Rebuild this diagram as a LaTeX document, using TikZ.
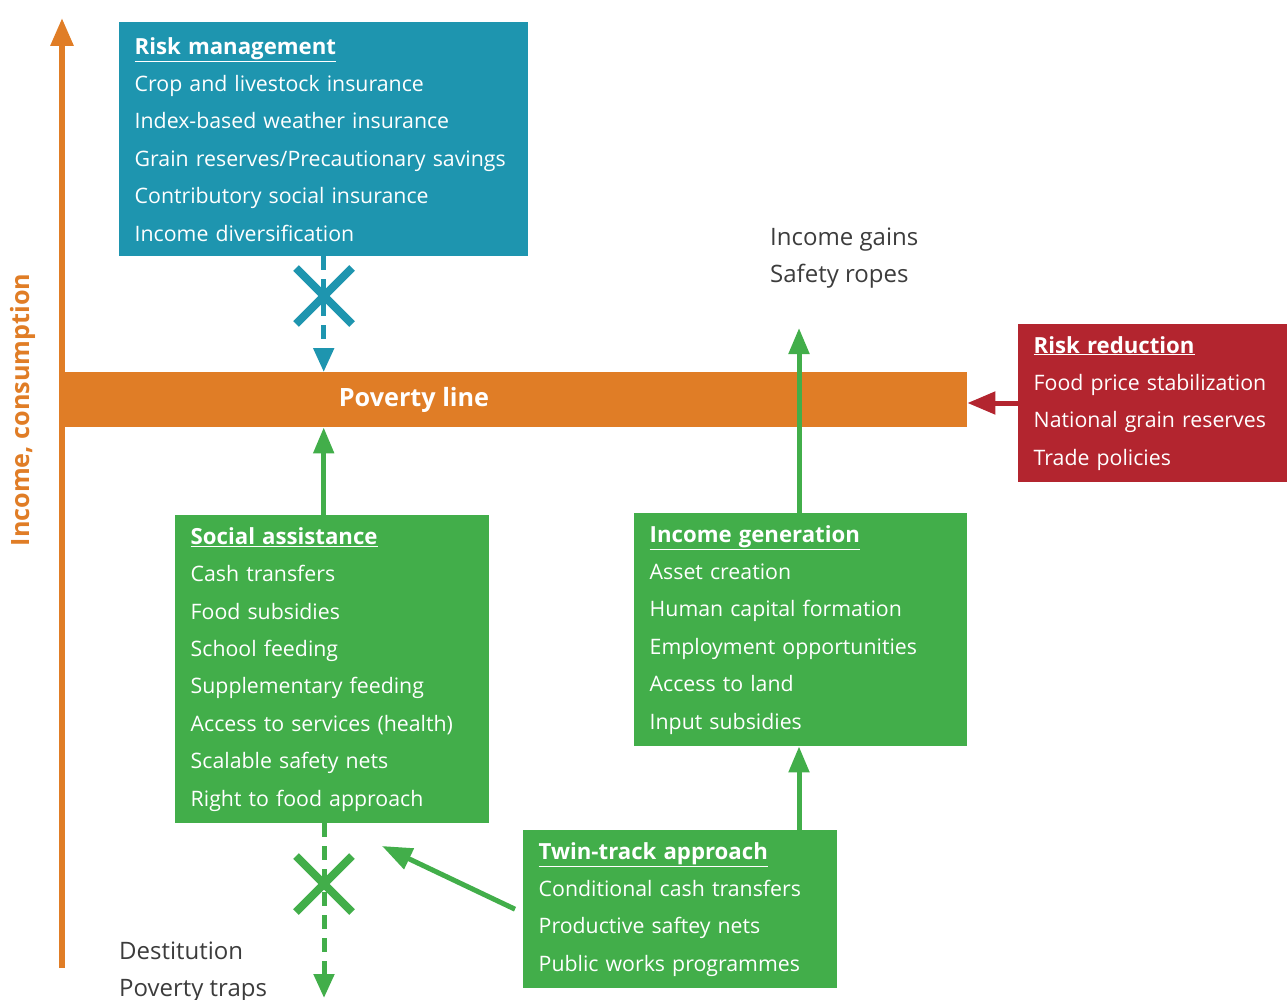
\documentclass[tikz,border=0pt]{standalone}
\usepackage{fontspec}
\setmainfont{Open Sans}
\usetikzlibrary{arrows.meta}
\definecolor{cteal}{HTML}{1E95AF}
\definecolor{corange}{HTML}{E07D26}
\definecolor{cred}{HTML}{B3252F}
\definecolor{cgreen}{HTML}{42AE4A}
\definecolor{cgray}{HTML}{3C3C3C}
\newcommand\boxtitle[1]{\rule{0pt}{17pt}{\fontsize{22.2}{37.4}\selectfont\textbf{\underline{#1}}}}
\tikzset{
  infobox/.style={rectangle, anchor=north west, inner xsep=15.5pt, inner ysep=0pt, text=white, align=left,
    font=\fontsize{21.3}{37.4}\selectfont},
  plainlabel/.style={anchor=west, inner sep=0pt, text=cgray, align=left, font=\fontsize{24}{37}\selectfont},
  bigtip/.style={-{Triangle[length=26pt,width=20pt]}},
  greenarrow/.style={draw=cgreen, line width=5pt, bigtip},
  crossmark/.style={line width=8pt},
}
\begin{document}
\begin{tikzpicture}[x=1pt,y=-1pt]
\useasboundingbox (0,0) rectangle (1287,1000);

% axis
\coordinate (axB) at (62,968);
\coordinate (axT) at (62,18);
\draw[draw=corange, line width=6pt, -{Triangle[length=28pt,width=22pt]}] (axB) -- (axT);
\node[rotate=90, text=corange, font=\bfseries\fontsize{25.2}{30}\selectfont] (axlabel) at (23,410) {Income, consumption};

% poverty line bar
\node[rectangle, fill=corange, anchor=north west, minimum width=908pt, minimum height=55pt, inner sep=0pt] (bar) at (59,372) {};
\node[text=white, font=\bfseries\fontsize{25.2}{30}\selectfont] (pl) at (414,400) {Poverty line};

% boxes
\node[infobox, fill=cteal, text width=378pt, minimum height=234pt] (rm) at (119,22)
  {\boxtitle{Risk management}\\Crop and livestock insurance\\Index-based weather insurance\\Grain reserves/Precautionary savings\\Contributory social insurance\\Income diversification};

\node[infobox, fill=cred, text width=238pt, minimum height=158pt] (rr) at (1018,324)
  {\boxtitle{Risk reduction}\\Food price stabilization\\National grain reserves\\Trade policies};

\node[infobox, fill=cgreen, text width=283pt, minimum height=308pt] (sa) at (175,515)
  {\boxtitle{Social assistance}\\Cash transfers\\Food subsidies\\School feeding\\Supplementary feeding\\Access to services (health)\\Scalable safety nets\\Right to food approach};

\node[infobox, fill=cgreen, text width=302pt, minimum height=233pt] (ig) at (634,513)
  {\boxtitle{Income generation}\\Asset creation\\Human capital formation\\Employment opportunities\\Access to land\\Input subsidies};

\node[infobox, fill=cgreen, text width=283pt, minimum height=158pt] (tt) at (523,830)
  {\boxtitle{Twin-track approach}\\Conditional cash transfers\\Productive saftey nets\\Public works programmes};

% plain labels
\node[plainlabel] (gains) at (770,258) {Income gains\\Safety ropes};
\node[plainlabel] (dest) at (119,972) {Destitution\\Poverty traps};

% teal blocked arrow
\draw[draw=cteal, line width=5pt, dash pattern=on 14pt off 9pt, -{Triangle[length=24pt,width=20pt]}] (rm.south) -- (rm.south |- bar.north);
\coordinate (xa) at (324,296);
\draw[cteal, crossmark] ([shift={(-28,-28)}]xa) -- ([shift={(28,28)}]xa);
\draw[cteal, crossmark] ([shift={(-28,28)}]xa) -- ([shift={(28,-28)}]xa);

% social assistance up to poverty line
\draw[greenarrow] (rm.south |- sa.north) -- (rm.south |- bar.south);

% income generation up past the poverty line
\coordinate (gainsTip) at (799,328);
\draw[greenarrow] (gainsTip |- ig.north) -- (gainsTip);

% twin-track to income generation
\draw[greenarrow] (gainsTip |- tt.north) -- (gainsTip |- ig.south);

% twin-track diagonal
\coordinate (diagTip) at (382,846);
\draw[greenarrow, -{Triangle[length=30pt,width=22pt]}] ([xshift=-8pt]tt.west) -- (diagTip);

% risk reduction to poverty line
\draw[draw=cred, line width=5pt, -{Triangle[length=28pt,width=22pt]}] (rr.west |- 0,403) -- (bar.east |- 0,403);

% social assistance blocked downward
\coordinate (destTip) at (324,998);
\draw[draw=cgreen, line width=5pt, dash pattern=on 14pt off 9pt, -{Triangle[length=24pt,width=20pt]}] (destTip |- sa.south) -- (destTip);
\coordinate (xb) at (324,884);
\draw[cgreen, crossmark] ([shift={(-28,-28)}]xb) -- ([shift={(28,28)}]xb);
\draw[cgreen, crossmark] ([shift={(-28,28)}]xb) -- ([shift={(28,-28)}]xb);
\end{tikzpicture}
\end{document}
